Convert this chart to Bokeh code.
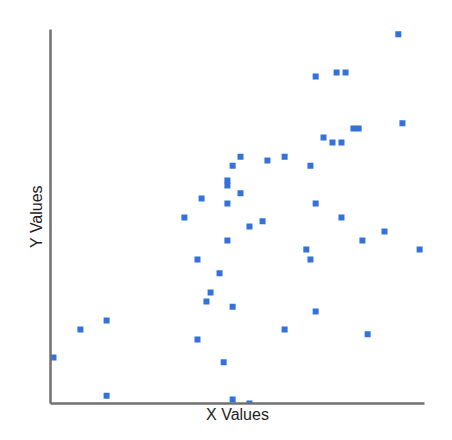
from bokeh.plotting import figure
from bokeh.models import Range1d, FixedTicker, BoxAnnotation
from bokeh.embed import file_html
from bokeh.resources import INLINE

x_vals = [93.0, 70.9, 76.5, 78.9, 94.1, 81.0, 82.4, 73.0, 75.4, 77.8,
          69.5, 70.9, 77.8, 89.3, 83.4, 68.4, 69.5, 98.7, 50.8, 48.7,
          58.0, 62.6, 47.3, 47.3, 50.8, 40.4, 47.3, 35.8, 53.2, 56.7,
          47.3, 39.3, 45.2, 42.8, 41.7, 48.7, 62.6, 39.3, 46.3, 48.7,
          53.2, 70.9, 84.8, 0.8, 8.0, 15.0, 15.0]
y_vals = [98.7, 87.4, 88.5, 88.5, 74.9, 73.5, 73.5, 71.1, 69.8, 69.8,
          63.6, 53.5, 49.7, 46.0, 43.6, 41.2, 38.5, 41.2, 66.0, 63.6,
          65.0, 66.0, 59.6, 58.3, 56.2, 54.8, 53.5, 49.7, 47.3, 48.7,
          43.6, 38.5, 34.8, 29.7, 27.3, 25.9, 19.8, 17.1, 11.0, 1.1,
          0.0, 24.6, 18.5, 12.3, 19.8, 22.2, 2.1]
x_label = "X Values"
y_label = "Y Values"

p = figure(width=452, height=434, output_backend="svg", toolbar_location=None,
           x_range=Range1d(0, 100), y_range=Range1d(0, 100),
           min_border_left=50, min_border_top=29, min_border_right=28,
           min_border_bottom=31)

# faint chart-area border and clipped legend edge of the original
p.add_layout(BoxAnnotation(left=14, right=436, top=15, bottom=431,
                           left_units="canvas", right_units="canvas",
                           top_units="canvas", bottom_units="canvas",
                           fill_color=None, line_color="#f0f0f0",
                           line_width=1, level="underlay"))
p.add_layout(BoxAnnotation(left=450, right=452, top=116, bottom=227,
                           left_units="canvas", right_units="canvas",
                           top_units="canvas", bottom_units="canvas",
                           fill_color=None, line_color="#dddddd",
                           line_width=1, level="underlay"))

p.scatter(x_vals, y_vals, marker="square", size=6, color="#3272d9",
          line_color=None)

p.grid.visible = False
p.outline_line_color = None
p.background_fill_color = "white"
p.border_fill_color = "white"

for ax in (p.xaxis[0], p.yaxis[0]):
    ax.ticker = FixedTicker(ticks=[])
    ax.major_tick_out = 0
    ax.major_tick_in = 0
    ax.minor_tick_out = 0
    ax.minor_tick_in = 0
    ax.major_label_standoff = 0
    ax.axis_line_color = "#707070"
    ax.axis_line_width = 2.5
    ax.axis_label_text_font = "Liberation Sans"
    ax.axis_label_text_font_size = "16px"
    ax.axis_label_text_font_style = "normal"
    ax.axis_label_text_color = "#222222"

p.xaxis[0].axis_label_standoff = 2
p.yaxis[0].axis_label_standoff = 6
p.xaxis[0].axis_label = x_label
p.yaxis[0].axis_label = y_label

open("out.html", "w").write(file_html(p, INLINE))
